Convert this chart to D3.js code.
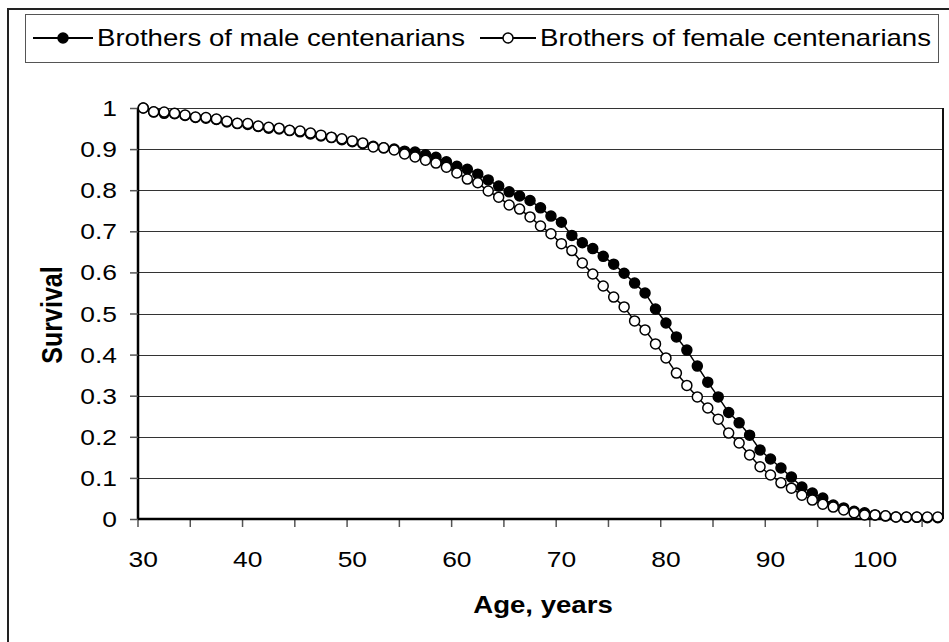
<!DOCTYPE html>
<html><head><meta charset="utf-8">
<script src="https://cdn.jsdelivr.net/npm/d3@7"></script>
<style>body{margin:0;background:#fff;}svg{display:block;}text{font-family:"Liberation Sans",Arial,sans-serif;fill:#000;}</style>
</head><body>
<svg id="chart" width="949" height="642"></svg>
<script>
const ages = d3.range(30, 107);
const maleSurvival = [1.0,0.990,0.987,0.986,0.982,0.977,0.975,0.972,0.966,0.962,0.960,0.955,0.951,0.949,0.945,0.942,0.937,0.932,0.928,0.923,0.918,0.913,0.907,0.903,0.900,0.895,0.893,0.886,0.880,
0.869,0.858,0.851,0.839,0.825,0.810,0.796,0.786,0.775,0.757,0.737,0.722,0.690,0.672,0.658,0.639,0.620,0.598,0.574,0.550,0.511,0.477,0.443,0.411,0.372,0.333,0.297,0.259,0.234,0.204,0.168,0.146,0.124,0.102,0.078,0.063,0.051,0.034,0.027,0.019,0.015,0.010,0.007,0.005,0.004,0.004,0.003,0.003];
const femaleSurvival = [1.0,0.991,0.990,0.987,0.983,0.978,0.977,0.973,0.968,0.963,0.962,0.956,0.953,0.951,0.946,0.944,0.939,0.934,0.929,0.925,0.920,0.915,0.905,0.903,0.898,0.888,0.881,0.873,0.866,
0.856,0.842,0.827,0.818,0.798,0.783,0.764,0.754,0.735,0.713,0.694,0.670,0.653,0.623,0.596,0.567,0.540,0.516,0.482,0.460,0.426,0.392,0.355,0.325,0.297,0.270,0.243,0.209,0.185,0.156,0.127,0.107,0.088,0.075,0.058,0.046,0.036,0.029,0.022,0.015,0.010,0.010,0.008,0.005,0.005,0.005,0.005,0.005];
const yTicks = [0,0.1,0.2,0.3,0.4,0.5,0.6,0.7,0.8,0.9,1];
const xLabels = [30,40,50,60,70,80,90,100];
const seriesNames = ["Brothers of male centenarians","Brothers of female centenarians"];

const SX = 1.2;
const svg = d3.select("#chart");
const L = 138, R = 943, T = 108, B = 519;
const x = d3.scaleBand().domain(ages).range([L, R]).padding(0);
const y = d3.scaleLinear().domain([0,1]).range([B, T]);
const cx = a => x(a) + x.bandwidth()/2;

function stext(g, px, py, str, size, anchor, weight){
  return g.append("text").attr("transform", `translate(${px},${py}) scale(${SX},1)`)
    .attr("text-anchor", anchor).attr("font-size", size).attr("font-weight", weight||"normal").text(str);
}

// outer border
svg.append("path").attr("d", `M8,642 V9 H949`).attr("fill","none").attr("stroke","#222").attr("stroke-width",2);

// legend
svg.append("rect").attr("x",25.5).attr("y",14.5).attr("width",913).attr("height",48).attr("fill","#fff").attr("stroke","#555").attr("stroke-width",1);
const legY = 38;
const legItems = [{x0:33,x1:93,tx:97,fill:"#000"},{x0:480,x1:536,tx:540,fill:"#fff"}];
legItems.forEach((it,i)=>{
  svg.append("line").attr("x1",it.x0).attr("x2",it.x1).attr("y1",legY).attr("y2",legY).attr("stroke","#000").attr("stroke-width",2);
  svg.append("circle").attr("cx",(it.x0+it.x1)/2).attr("cy",legY).attr("r",5).attr("fill",it.fill).attr("stroke","#000").attr("stroke-width",1.5);
  stext(svg, it.tx, 46, seriesNames[i], 23, "start");
});

// gridlines
svg.append("g").selectAll("line").data(yTicks.filter(d=>d>0)).join("line")
  .attr("x1",L).attr("x2",R).attr("y1",d=>Math.round(y(d))+0.5).attr("y2",d=>Math.round(y(d))+0.5)
  .attr("stroke","#333").attr("stroke-width",1);
// right border
svg.append("line").attr("x1",R).attr("x2",R).attr("y1",T).attr("y2",B).attr("stroke","#111").attr("stroke-width",2);

// y axis
const yAxis = d3.axisLeft(y).tickValues(yTicks).tickSize(8).tickFormat("");
const gy = svg.append("g").attr("transform",`translate(${L},0)`).call(yAxis);
gy.select(".domain").attr("stroke","#000").attr("stroke-width",2.5).attr("d",`M0,${T}V${B}`);
gy.selectAll(".tick line").attr("stroke","#555").attr("stroke-width",1.5);
yTicks.forEach(v=> stext(svg, 117, y(v)+8, d3.format("")(v), 22, "end"));

// x axis
const xTickAges = ages.filter((a,i)=> i%5===0);
const gx = svg.append("g").attr("transform",`translate(0,${B})`);
gx.selectAll("line").data(xTickAges).join("line")
  .attr("x1",a=>x(a)).attr("x2",a=>x(a)).attr("y1",0).attr("y2",8).attr("stroke","#555").attr("stroke-width",1.5);
gx.append("line").attr("x1",L).attr("x2",R).attr("y1",0).attr("y2",0).attr("stroke","#000").attr("stroke-width",2.5);
xLabels.forEach(a=> stext(svg, cx(a), 567, String(a), 22, "middle"));

// axis titles
stext(svg, 543, 613, "Age, years", 23, "middle", "bold");
svg.append("text").attr("transform","translate(62,315) rotate(-90) scale(1,1.2)")
  .attr("text-anchor","middle").attr("font-size",25).attr("font-weight","bold").text("Survival");

// series
const line = d3.line().x((d,i)=>cx(ages[i])).y(d=>y(d));
[{data:maleSurvival, fill:"#000"},{data:femaleSurvival, fill:"#fff"}].forEach(s=>{
  svg.append("path").datum(s.data).attr("d",line).attr("fill","none").attr("stroke","#000").attr("stroke-width",1.5);
  svg.append("g").selectAll("circle").data(s.data).join("circle")
    .attr("cx",(d,i)=>cx(ages[i])).attr("cy",d=>y(d)).attr("r",5)
    .attr("fill",s.fill).attr("stroke","#000").attr("stroke-width",1.5);
});
</script>
</body></html>
